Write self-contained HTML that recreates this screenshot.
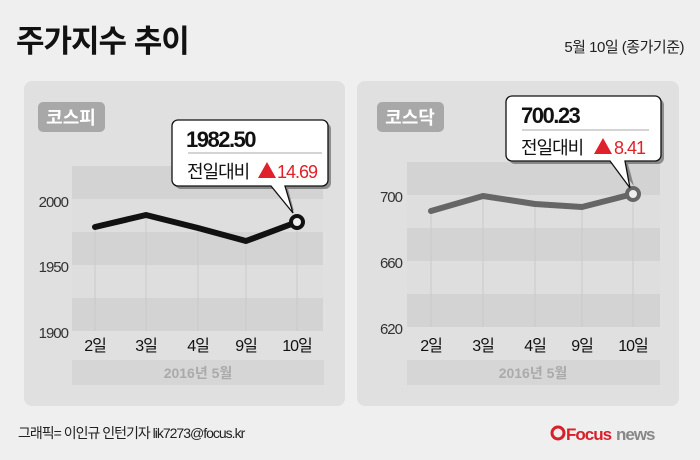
<!DOCTYPE html>
<html><head><meta charset="utf-8"><style>
body{margin:0;width:700px;height:455px;background:#efefef;overflow:hidden;font-family:"Liberation Sans","Noto Sans CJK KR",sans-serif;}
</style></head><body>
<svg width="700" height="455" viewBox="0 0 700 455" xmlns="http://www.w3.org/2000/svg" style="font-family:'Liberation Sans','Noto Sans CJK KR',sans-serif">
<rect width="700" height="455" fill="#efefef"/>
<text x="16" y="52" font-size="31" font-weight="bold" fill="#111" letter-spacing="-1">주가지수 추이</text>
<text x="684" y="52" font-size="15" fill="#222" text-anchor="end" letter-spacing="-0.5">5월 10일 (종가기준)</text>

<!-- left panel -->
<rect x="24" y="81" width="321" height="325" rx="8" fill="#e0e0e0"/>
<rect x="72" y="166" width="251" height="165" fill="#dedede"/>
<rect x="72" y="166" width="251" height="33" fill="#d3d3d3"/>
<rect x="72" y="232" width="251" height="33" fill="#d3d3d3"/>
<rect x="72" y="298" width="251" height="33" fill="#d3d3d3"/>
<g stroke="#cacaca" stroke-width="1">
<line x1="95" y1="227" x2="95" y2="331"/><line x1="146" y1="215" x2="146" y2="331"/><line x1="198" y1="228" x2="198" y2="331"/><line x1="246" y1="241" x2="246" y2="331"/><line x1="297" y1="222" x2="297" y2="331"/></g>
<text x="68" y="207" font-size="15" fill="#333" text-anchor="end" letter-spacing="-1">2000</text>
<text x="68" y="272" font-size="15" fill="#333" text-anchor="end" letter-spacing="-1">1950</text>
<text x="68" y="338" font-size="15" fill="#333" text-anchor="end" letter-spacing="-1">1900</text>
<polyline points="95,227 146,215 198,228 246,241 297,222" fill="none" stroke="#111" stroke-width="6" stroke-linejoin="round" stroke-linecap="round"/>
<circle cx="297" cy="222" r="6" fill="#eee" stroke="#111" stroke-width="4"/>
<rect x="38" y="102" width="67" height="30" rx="5" fill="#a8a8a8"/>
<text x="71" y="124" font-size="18" font-weight="bold" fill="#fff" text-anchor="middle">코스피</text>
<g font-size="16" fill="#111" text-anchor="middle" letter-spacing="-1">
<text x="95" y="351">2일</text><text x="146" y="351">3일</text><text x="198" y="351">4일</text><text x="246" y="351">9일</text><text x="297" y="351">10일</text></g>
<rect x="72" y="360" width="252" height="25" fill="#d6d6d6"/>
<text x="198" y="378" font-size="14" font-weight="bold" fill="#aaa" text-anchor="middle">2016년 5월</text>
<path d="M181,123 h144 a6,6 0 0 1 6,6 v54 a6,6 0 0 1 -6,6 h-37 l6,22 l-18,-22 h-95 a6,6 0 0 1 -6,-6 v-54 a6,6 0 0 1 6,-6z" fill="#555" opacity="0.6"/>
<path d="M178,120 h144 a6,6 0 0 1 6,6 v54 a6,6 0 0 1 -6,6 h-37 l8,27 l-22,-27 h-93 a6,6 0 0 1 -6,-6 v-54 a6,6 0 0 1 6,-6z" fill="#fff" stroke="#111" stroke-width="1.3"/>
<text x="186" y="147" font-size="22" font-weight="bold" fill="#111" letter-spacing="-1.5">1982.50</text>
<line x1="188" y1="153" x2="322" y2="153" stroke="#aaa"/>
<text x="187" y="178" font-size="18" fill="#111" letter-spacing="-1">전일대비</text>
<polygon points="258,178 267,162 276,178" fill="#e0202a"/>
<text x="277" y="178" font-size="18" fill="#e0202a" letter-spacing="-1">14.69</text>

<!-- right panel -->
<rect x="357" y="81" width="322" height="325" rx="8" fill="#e0e0e0"/>
<rect x="407" y="162" width="253" height="165" fill="#dedede"/>
<rect x="407" y="162" width="253" height="33" fill="#d3d3d3"/>
<rect x="407" y="228" width="253" height="33" fill="#d3d3d3"/>
<rect x="407" y="294" width="253" height="33" fill="#d3d3d3"/>
<g stroke="#cacaca" stroke-width="1">
<line x1="431" y1="211" x2="431" y2="327"/><line x1="483" y1="196" x2="483" y2="327"/><line x1="535" y1="204" x2="535" y2="327"/><line x1="582" y1="207" x2="582" y2="327"/><line x1="633" y1="194" x2="633" y2="327"/></g>
<text x="402" y="202" font-size="15" fill="#333" text-anchor="end" letter-spacing="-1">700</text>
<text x="402" y="268" font-size="15" fill="#333" text-anchor="end" letter-spacing="-1">660</text>
<text x="402" y="334" font-size="15" fill="#333" text-anchor="end" letter-spacing="-1">620</text>
<polyline points="431,211 483,196 535,204 582,207 633,194" fill="none" stroke="#666" stroke-width="6" stroke-linejoin="round" stroke-linecap="round"/>
<circle cx="633" cy="194" r="6" fill="#eee" stroke="#666" stroke-width="4"/>
<rect x="377" y="102" width="67" height="30" rx="5" fill="#a8a8a8"/>
<text x="410" y="124" font-size="18" font-weight="bold" fill="#fff" text-anchor="middle">코스닥</text>
<g font-size="16" fill="#111" text-anchor="middle" letter-spacing="-1">
<text x="431" y="351">2일</text><text x="483" y="351">3일</text><text x="535" y="351">4일</text><text x="582" y="351">9일</text><text x="633" y="351">10일</text></g>
<rect x="407" y="360" width="253" height="25" fill="#d6d6d6"/>
<text x="533" y="378" font-size="14" font-weight="bold" fill="#aaa" text-anchor="middle">2016년 5월</text>
<path d="M515,99 h143 a6,6 0 0 1 6,6 v53 a6,6 0 0 1 -6,6 h-30 l6,22 l-18,-22 h-101 a6,6 0 0 1 -6,-6 v-53 a6,6 0 0 1 6,-6z" fill="#555" opacity="0.6"/>
<path d="M512,96 h143 a6,6 0 0 1 6,6 v53 a6,6 0 0 1 -6,6 h-30 l5,27 l-20,-27 h-98 a6,6 0 0 1 -6,-6 v-53 a6,6 0 0 1 6,-6z" fill="#fff" stroke="#111" stroke-width="1.3"/>
<text x="521" y="123" font-size="22" font-weight="bold" fill="#111" letter-spacing="-1.5">700.23</text>
<line x1="522" y1="130" x2="649" y2="130" stroke="#aaa"/>
<text x="521" y="154" font-size="18" fill="#111" letter-spacing="-1">전일대비</text>
<polygon points="594,154 603,138 612,154" fill="#e0202a"/>
<text x="614" y="154" font-size="18" fill="#e0202a" letter-spacing="-1">8.41</text>

<text x="18" y="438" font-size="14" fill="#222" letter-spacing="-1">그래픽= 이인규 인턴기자 lik7273@focus.kr</text>
<circle cx="558" cy="433" r="6" fill="none" stroke="#d8202a" stroke-width="3"/>
<text x="566" y="440" font-size="17" font-weight="bold" fill="#d8202a" letter-spacing="-1">Focus</text>
<text x="616" y="440" font-size="17" font-weight="bold" fill="#888" letter-spacing="-1">news</text>
</svg>
</body></html>
